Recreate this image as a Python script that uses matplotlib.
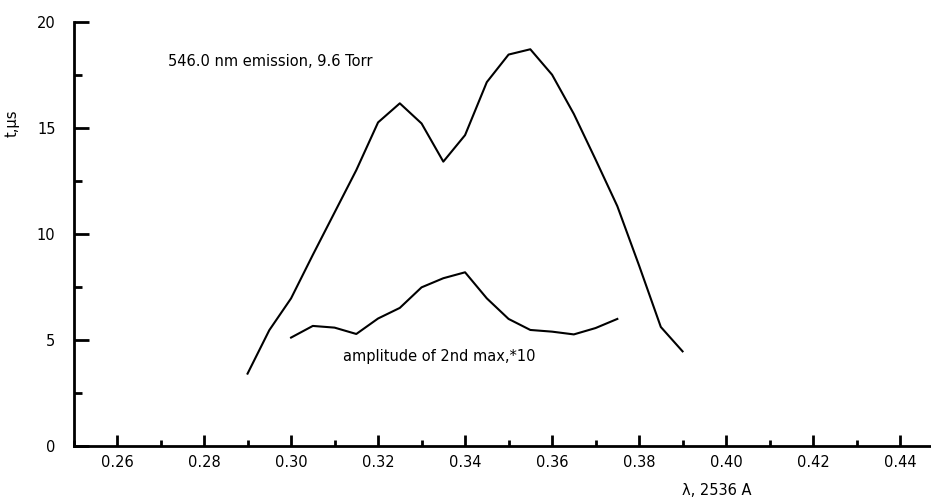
import matplotlib
matplotlib.use("Agg")
import matplotlib.pyplot as plt
from matplotlib.ticker import MultipleLocator

plt.rcParams['font.family'] = ['DejaVu Sans']

# emission time vs wavelength, 546.0 nm line at 9.6 Torr
lam = [0.290, 0.295, 0.300, 0.305, 0.310, 0.315, 0.320, 0.325, 0.330, 0.335,
       0.340, 0.345, 0.350, 0.355, 0.360, 0.365, 0.370, 0.375, 0.380, 0.385, 0.390]
t_us = [3.4, 5.45, 6.95, 9.0, 11.0, 13.0, 15.25, 16.15, 15.2, 13.4,
        14.65, 17.15, 18.45, 18.7, 17.5, 15.65, 13.5, 11.3, 8.5, 5.6, 4.45]

# amplitude of the 2nd maximum (x10)
lam2 = [0.300, 0.305, 0.310, 0.315, 0.320, 0.325, 0.330, 0.335, 0.340,
        0.345, 0.350, 0.355, 0.360, 0.365, 0.370, 0.375]
amp2 = [5.1, 5.65, 5.57, 5.27, 6.0, 6.5, 7.47, 7.9, 8.18,
        6.95, 5.98, 5.46, 5.38, 5.25, 5.55, 5.98]

xticks = [0.26, 0.28, 0.30, 0.32, 0.34, 0.36, 0.38, 0.40, 0.42, 0.44]
yticks = [0, 5, 10, 15, 20]

fig = plt.figure(figsize=(9.31, 4.99), dpi=100)
ax = fig.add_axes([0.079, 0.1068, 0.9205, 0.8497])

ax.plot(lam, t_us, color='black', linewidth=1.5)
ax.plot(lam2, amp2, color='black', linewidth=1.5)

ax.set_xlim(0.25, 0.447)
ax.set_ylim(0, 20)

ax.set_xticks(xticks)
ax.set_xticklabels([f"{v:.2f}" for v in xticks])
ax.xaxis.set_minor_locator(MultipleLocator(0.01))
ax.set_yticks(yticks)
ax.yaxis.set_minor_locator(MultipleLocator(2.5))

ax.tick_params(axis='x', which='major', direction='in', length=8, width=2,
               labelsize=10.5, pad=7)
ax.tick_params(axis='x', which='minor', direction='in', length=4.5, width=2)
ax.tick_params(axis='y', which='major', direction='in', length=11, width=2,
               labelsize=10.5, pad=13)
ax.tick_params(axis='y', which='minor', direction='in', length=6, width=2)

for side in ['top', 'right']:
    ax.spines[side].set_visible(False)
for side in ['left', 'bottom']:
    ax.spines[side].set_linewidth(2)

ax.set_ylabel("t,\u03bcs", fontsize=10.5)
ax.yaxis.set_label_coords(-0.063, 0.76)
ax.set_xlabel("\u03bb, 2536 A", fontsize=10.5)
ax.xaxis.set_label_coords(0.75, -0.088)

ax.text(0.2717, 18.1, "546.0 nm emission, 9.6 Torr", fontsize=10.5,
        ha='left', va='center')
ax.text(0.312, 4.2, "amplitude of 2nd max,*10", fontsize=10.5,
        ha='left', va='center')

fig.savefig("out.png", dpi=100)
